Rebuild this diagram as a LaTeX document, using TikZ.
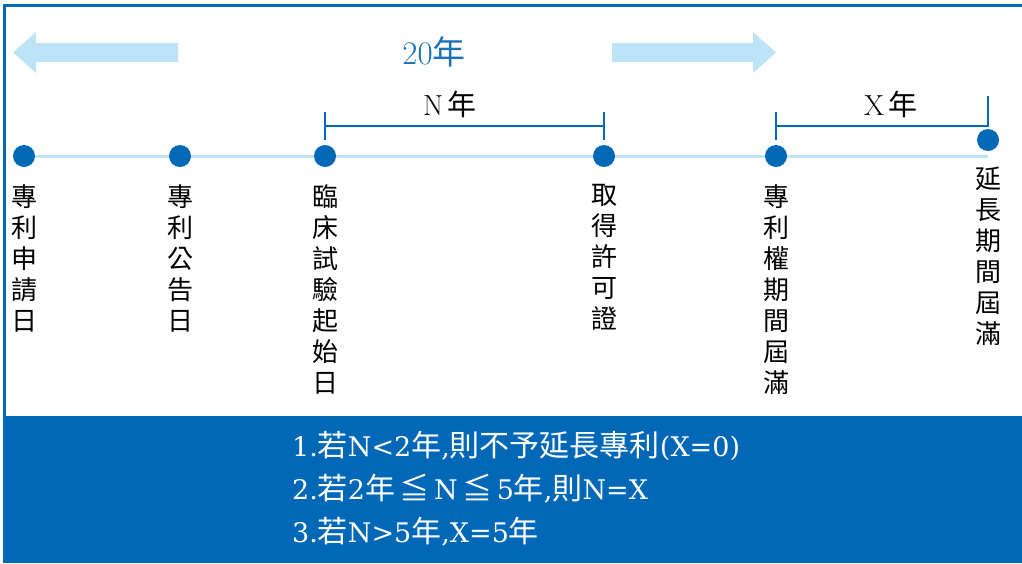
\documentclass[tikz,border=0pt]{standalone}
\usepackage{fontspec}
\usetikzlibrary{backgrounds}
\newfontfamily\cjk{Noto Sans CJK TC}
\newfontfamily\ser{DejaVu Serif}
\newcommand\zh[1]{{\cjk\fontsize{30}{34}\selectfont #1}}
\newcommand\zt[1]{{\cjk #1}}
\definecolor{dblue}{HTML}{0068B7}
\definecolor{lblue}{HTML}{BDE3F7}
\definecolor{tblue}{HTML}{1A72BA}
\tikzset{
  dot/.style={circle,fill=dblue,inner sep=0pt,minimum size=22pt},
  vlabel/.style={anchor=north,align=center,inner sep=0pt,font=\cjk\fontsize{26}{31}\selectfont},
  bracket/.style={draw=dblue,line width=2.2pt},
  rulelabel/.style={anchor=base west,inner sep=0pt,text=white,font=\ser\fontsize{27}{34}\selectfont},
  spanlabel/.style={inner sep=0pt,font=\fontsize{29}{32}\selectfont},
  bigarrow/.style={fill=lblue},
}
\begin{document}
\begin{tikzpicture}[x=1pt,y=-1pt]
\useasboundingbox (0,0) rectangle (1022,563);
% frame
\draw[dblue,line width=2.5pt] (4.5,416) -- (4.5,5.5) -- (1022,5.5);
\fill[dblue] (3,416) rectangle (1022,563);
% big arrows
\fill[bigarrow] (178,43) -- (36,43) -- (36,32) -- (13,52.5) -- (36,73) -- (36,62) -- (178,62) -- cycle;
\fill[bigarrow] (612,43) -- (753,43) -- (753,32) -- (776,52.5) -- (753,73) -- (753,62) -- (612,62) -- cycle;
\node[spanlabel,text=tblue,font=\fontsize{33}{36}\selectfont] (twenty) at (434,52) {20\zt{年}};
% timeline
\coordinate (tend) at (988,156);
\node[dot] (d1) at (24,156) {};
\node[dot] (d2) at (180,156) {};
\node[dot] (d3) at (325,156) {};
\node[dot] (d4) at (604,156) {};
\node[dot] (d5) at (776,156) {};
\node[dot] (d6) at (988,140) {};
\begin{scope}[on background layer]
\draw[lblue,line width=3pt] (d1.center) -- (tend);
\end{scope}
% brackets
\coordinate (nL) at (325,112);
\coordinate (nR) at (604,112);
\coordinate (xL) at (776,112);
\coordinate (xR) at (988,96);
\draw[bracket] (nL) -- (325,140);
\draw[bracket] (nR) -- (604,140);
\draw[bracket] (325,126) -- (604,126);
\draw[bracket] (xL) -- (776,140);
\draw[bracket] (776,126) -- (988,126) -- (xR);
\node[spanlabel] (nlab) at (450,104) {N\,\zt{年}};
\node[spanlabel] (xlab) at (891,104) {X\,\zt{年}};
% vertical labels
\node[vlabel] (l1) at (24,184) {專\\利\\申\\請\\日};
\node[vlabel] (l2) at (180,184) {專\\利\\公\\告\\日};
\node[vlabel] (l3) at (325,184) {臨\\床\\試\\驗\\起\\始\\日};
\node[vlabel] (l4) at (604,184) {取\\得\\許\\可\\證};
\node[vlabel] (l5) at (776,184) {專\\利\\權\\期\\間\\屆\\滿};
\node[vlabel] (l6) at (988,167) {延\\長\\期\\間\\屆\\滿};
% rules
\node[rulelabel] (r1) at (292,456) {1.\zh{若}N<2\zh{年},\zh{則不予延長專利}(X=0)};
\node[rulelabel] (r2) at (292,499) {2.\zh{若}2\zh{年}\,\zh{≦}\,N\,\zh{≦}\,5\zh{年},\zh{則}N=X};
\node[rulelabel] (r3) at (292,542) {3.\zh{若}N>5\zh{年},X=5\zh{年}};
\end{tikzpicture}
\end{document}
